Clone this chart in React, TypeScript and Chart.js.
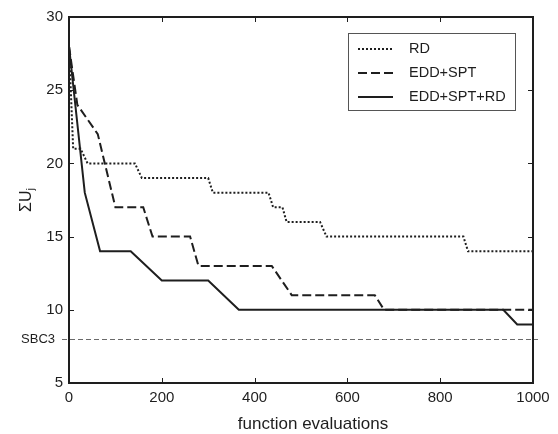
import { useEffect, useRef } from 'react';
import { Chart, registerables } from 'chart.js';

Chart.register(...registerables);

// ---- data ----
const rdX = [0, 9, 25, 40, 142, 157, 300, 310, 430, 440, 460, 469, 541, 555, 850, 860, 1000];
const rdY = [28, 21, 21, 20, 20, 19, 19, 18, 18, 17, 17, 16, 16, 15, 15, 14, 14];

const eddSptX = [0, 18, 62, 100, 160, 180, 261, 279, 437, 480, 659, 679, 1000];
const eddSptY = [28, 24, 22, 17, 17, 15, 15, 13, 13, 11, 11, 10, 10];

const eddSptRdX = [0, 34, 67, 133, 200, 300, 366, 936, 966, 1000];
const eddSptRdY = [28, 18, 14, 14, 12, 12, 10, 10, 9, 9];

const seriesLabels = ['RD', 'EDD+SPT', 'EDD+SPT+RD'];
const xTicks = [0, 200, 400, 600, 800, 1000];
const yTicks = [5, 10, 15, 20, 25, 30];
const sbc3Value = 8;
const sbc3Label = 'SBC3';
const xTitle = 'function evaluations';

const FONT = "'Liberation Sans', Arial, Helvetica, sans-serif";
const INK = '#1e1e1e';

const toPoints = (xs: number[], ys: number[]) => xs.map((x, i) => ({ x, y: ys[i] }));

const dashes: number[][] = [[2, 2], [9, 4], []];

const decorPlugin = {
  id: 'decor',
  beforeDatasetsDraw(chart: any) {
    const { ctx, chartArea, scales } = chart;
    const y = scales.y.getPixelForValue(sbc3Value);
    ctx.save();
    ctx.strokeStyle = '#6a6a6a';
    ctx.lineWidth = 1;
    ctx.setLineDash([5, 3]);
    ctx.beginPath();
    ctx.moveTo(chartArea.left - 7, Math.round(y) + 0.5);
    ctx.lineTo(chartArea.right + 5, Math.round(y) + 0.5);
    ctx.stroke();
    ctx.setLineDash([]);
    ctx.fillStyle = INK;
    ctx.font = `13px ${FONT}`;
    ctx.textAlign = 'right';
    ctx.textBaseline = 'middle';
    ctx.fillText(sbc3Label, chartArea.left - 14, y);
    ctx.restore();
  },
  afterDatasetsDraw(chart: any) {
    const { ctx, chartArea, scales } = chart;
    const { left, right, top, bottom } = chartArea;
    ctx.save();
    // frame
    ctx.strokeStyle = INK;
    ctx.lineWidth = 2;
    ctx.strokeRect(left, top, right - left, bottom - top);
    // inward tick marks
    ctx.lineWidth = 1;
    const tl = 5;
    xTicks.forEach((v) => {
      const x = Math.round(scales.x.getPixelForValue(v)) + 0.5;
      ctx.beginPath();
      ctx.moveTo(x, bottom);
      ctx.lineTo(x, bottom - tl);
      ctx.moveTo(x, top);
      ctx.lineTo(x, top + tl);
      ctx.stroke();
    });
    yTicks.forEach((v) => {
      const yy = Math.round(scales.y.getPixelForValue(v)) + 0.5;
      ctx.beginPath();
      ctx.moveTo(left, yy);
      ctx.lineTo(left + tl, yy);
      ctx.moveTo(right, yy);
      ctx.lineTo(right - tl, yy);
      ctx.stroke();
    });
    // legend
    const bx = 348, by = 33, bw = 167, bh = 77;
    ctx.fillStyle = '#ffffff';
    ctx.fillRect(bx, by, bw, bh);
    ctx.strokeStyle = '#555555';
    ctx.lineWidth = 1;
    ctx.strokeRect(bx + 0.5, by + 0.5, bw, bh);
    const rows = [49, 73, 97];
    seriesLabels.forEach((lab, i) => {
      ctx.strokeStyle = INK;
      ctx.lineWidth = 2;
      ctx.setLineDash(dashes[i]);
      ctx.beginPath();
      ctx.moveTo(358, rows[i]);
      ctx.lineTo(393, rows[i]);
      ctx.stroke();
      ctx.setLineDash([]);
      ctx.fillStyle = INK;
      ctx.font = `14.5px ${FONT}`;
      ctx.textAlign = 'left';
      ctx.textBaseline = 'middle';
      ctx.fillText(lab, 409, rows[i]);
    });
    // axis titles
    ctx.fillStyle = INK;
    ctx.font = `17px ${FONT}`;
    ctx.textAlign = 'center';
    ctx.textBaseline = 'middle';
    ctx.fillText(xTitle, 313, 424);
    // y title: ΣU with subscript j, rotated
    ctx.translate(26, 200);
    ctx.rotate(-Math.PI / 2);
    ctx.font = `16px ${FONT}`;
    const main = 'ΣU';
    const wMain = ctx.measureText(main).width;
    ctx.font = `11px ${FONT}`;
    const wSub = ctx.measureText('j').width;
    const total = wMain + wSub;
    ctx.textAlign = 'left';
    ctx.textBaseline = 'alphabetic';
    ctx.font = `16px ${FONT}`;
    ctx.fillText(main, -total / 2, 5);
    ctx.font = `11px ${FONT}`;
    ctx.fillText('j', -total / 2 + wMain, 8);
    ctx.restore();
  },
};

export default function App() {
  const ref = useRef<HTMLCanvasElement | null>(null);
  useEffect(() => {
    if (!ref.current) return;
    const chart = new Chart(ref.current, {
      type: 'line',
      data: {
        datasets: [
          { label: seriesLabels[0], data: toPoints(rdX, rdY), borderDash: dashes[0] },
          { label: seriesLabels[1], data: toPoints(eddSptX, eddSptY), borderDash: dashes[1] },
          { label: seriesLabels[2], data: toPoints(eddSptRdX, eddSptRdY), borderDash: dashes[2] },
        ].map((d) => ({
          ...d,
          borderColor: INK,
          borderWidth: 2,
          pointRadius: 0,
          tension: 0,
          fill: false,
        })),
      },
      options: {
        animation: false,
        responsive: false,
        maintainAspectRatio: false,
        layout: { padding: { left: 0, top: 17, right: 25, bottom: 0 } },
        plugins: { legend: { display: false }, tooltip: { enabled: false } },
        scales: {
          x: {
            type: 'linear',
            min: 0,
            max: 1000,
            grid: { display: false, drawTicks: false },
            border: { display: false },
            afterBuildTicks: (s: any) => { s.ticks = xTicks.map((v) => ({ value: v })); },
            ticks: {
              color: INK,
              font: { family: FONT, size: 15 },
              padding: 6,
              maxRotation: 0,
              callback: (v: any) => String(v),
            },
            afterFit: (s: any) => { s.height = 51; },
          },
          y: {
            type: 'linear',
            min: 5,
            max: 30,
            grid: { display: false, drawTicks: false },
            border: { display: false },
            afterBuildTicks: (s: any) => { s.ticks = yTicks.map((v) => ({ value: v })); },
            ticks: {
              color: INK,
              font: { family: FONT, size: 15 },
              padding: 6,
              callback: (v: any) => String(v),
            },
            afterFit: (s: any) => { s.width = 69; },
          },
        },
      },
      plugins: [decorPlugin],
    });
    return () => chart.destroy();
  }, []);
  return (
    <div style={{ position: 'absolute', left: 0, top: 0, width: 558, height: 434, background: '#fff' }}>
      <canvas ref={ref} width={558} height={434} />
    </div>
  );
}
